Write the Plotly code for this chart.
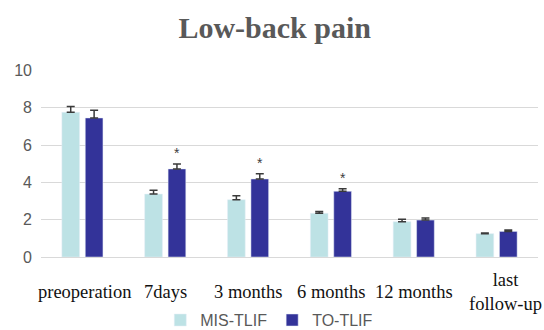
import plotly.graph_objects as go

categories = ["preoperation", "7days", "3 months", "6 months", "12 months", "last<br>follow-up"]
mis_values = [7.75, 3.37, 3.07, 2.34, 1.89, 1.25]
mis_err = [0.32, 0.20, 0.21, 0.10, 0.13, 0.03]
to_values = [7.45, 4.72, 4.18, 3.52, 1.98, 1.37]
to_err = [0.41, 0.26, 0.28, 0.14, 0.11, 0.08]
significant = [False, True, True, True, False, False]
y_ticks = [0, 2, 4, 6, 8, 10]

x_idx = list(range(len(categories)))

fig = go.Figure()
fig.add_trace(go.Bar(
    name="MIS-TLIF", x=x_idx, y=mis_values, marker_color="#bde2e5",
    error_y=dict(type="data", array=mis_err, symmetric=False, arrayminus=[0]*6,
                 color="#3a3a3a", thickness=1.5, width=4),
))
fig.add_trace(go.Bar(
    name="TO-TLIF", x=x_idx, y=to_values, marker_color="#333399",
    error_y=dict(type="data", array=to_err, symmetric=False, arrayminus=[0]*6,
                 color="#3a3a3a", thickness=1.5, width=4),
))

annotations = []
for i, sig in enumerate(significant):
    if sig:
        annotations.append(dict(
            x=i + 0.1415, y=to_values[i] + to_err[i], xref="x", yref="y",
            text="*", showarrow=False, yanchor="bottom", yshift=1,
            font=dict(family="Liberation Sans, Arial", size=14, color="#404040"),
        ))
for i, c in enumerate(categories):
    annotations.append(dict(
        x=i, y=-0.186, xref="x", yref="paper", text=c, showarrow=False,
        yanchor="middle", xanchor="center",
        xshift=9 if "follow" in c else (3 if i == 0 else 0),
        font=dict(family="Liberation Serif, Times New Roman", size=18.5, color="#111111"),
    ))

fig.update_layout(
    width=544, height=330,
    margin=dict(l=41, r=6, t=70, b=73, autoexpand=False),
    paper_bgcolor="white", plot_bgcolor="white",
    barmode="group", bargap=0.435, bargroupgap=0.244,
    title=dict(text="<b>Low-back pain</b>", x=0.505, xanchor="center", y=0.918, yanchor="middle",
               font=dict(family="Liberation Serif, Times New Roman", size=30, color="#595959")),
    xaxis=dict(range=[-0.5, 5.5], showticklabels=False, showgrid=False, zeroline=False,
               ticks="", fixedrange=True),
    yaxis=dict(range=[0, 10.02], tickvals=y_ticks, showgrid=True, gridcolor="#d9d9d9",
               gridwidth=1, zeroline=True, zerolinecolor="#d9d9d9", zerolinewidth=1,
               tickfont=dict(family="Liberation Sans, Arial", size=16, color="#595959"),
               ticklabelstandoff=8),
    legend=dict(orientation="h", x=0.495, xanchor="center", xref="container",
                y=0.03, yanchor="middle", yref="container",
                font=dict(family="Liberation Sans, Arial", size=16, color="#595959"),
                itemwidth=30, tracegroupgap=0),
    annotations=annotations,
    showlegend=True,
)

fig.write_html("out.html")
